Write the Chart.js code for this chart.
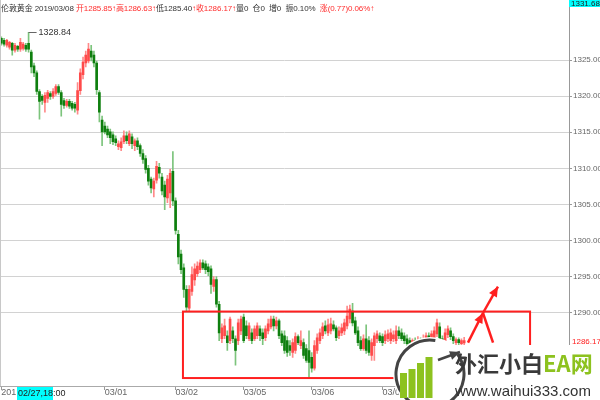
<!DOCTYPE html>
<html>
<head>
<meta charset="utf-8">
<script src="https://cdn.jsdelivr.net/npm/chart.js@4.4.0/dist/chart.umd.min.js"></script>
<style>
  html, body { margin: 0; padding: 0; background: #fff; }
  #wrap { position: relative; width: 600px; height: 400px; overflow: hidden; }
  #header {
    position: absolute; left: 1px; top: 2px; white-space: nowrap; letter-spacing: -0.1px;
    font: 8px "Liberation Sans", Arial, "Noto Sans CJK SC", sans-serif; color: #333;
  }
  #header .r { color: #ff2d2d; }
</style>
</head>
<body>
<div id="wrap">
  <canvas id="kline" width="600" height="400"></canvas>
  <div id="header">伦敦黄金 2019/03/08 <span class="r">开1285.85↑高1286.63↑</span>低1285.40<span class="r">↑收1286.17↑</span>量0&nbsp;&nbsp;仓0&nbsp;&nbsp;增0&nbsp;&nbsp;振0.10%&nbsp;&nbsp;<span class="r">涨(0.77)0.06%↑</span></div>
</div>
<script>
// hourly bars, London gold
const opens = [
  1328.0, 1327.72, 1327.04, 1326.77, 1327.32, 1326.36, 1326.9, 1326.5, 1326.6, 1327.04,
  1327.3, 1326.09, 1324.18, 1323.23, 1320.64, 1319.96, 1319.14, 1319.7, 1320.37, 1319.96,
  1320.37, 1321.32, 1320.5, 1319.4, 1318.73, 1319.28, 1319.0, 1318.87, 1318.05, 1320.77,
  1322.96, 1324.59, 1324.86, 1326.23, 1325.68, 1324.59, 1320.5, 1316.7, 1315.87, 1315.46,
  1315.05, 1314.64, 1314.1, 1313.01, 1312.87, 1313.69, 1314.5, 1313.42, 1314.37, 1313.15,
  1313.83, 1313.15, 1312.06, 1311.38, 1310.01, 1308.51, 1307.15, 1308.38, 1310.15, 1308.79,
  1307.7, 1305.93, 1306.61, 1309.6, 1305.52, 1300.89, 1298.16, 1296.25, 1293.26, 1290.67,
  1292.98, 1294.58, 1295.44, 1295.98, 1296.94, 1296.8, 1296.39, 1296.12, 1293.67, 1294.62,
  1291.21, 1286.44, 1286.85, 1286.85, 1286.17, 1287.53, 1286.44, 1286.17, 1287.53, 1289.44,
  1288.22, 1286.44, 1287.26, 1286.44, 1286.85, 1287.81, 1287.26, 1286.58, 1287.53, 1288.08,
  1289.17, 1288.22, 1288.9, 1287.12, 1286.85, 1286.17, 1285.49, 1284.54, 1284.81, 1286.72,
  1285.49, 1285.9, 1285.08, 1284.81, 1283.86, 1282.36, 1284.81, 1286.17, 1286.85, 1288.22,
  1287.26, 1287.53, 1288.35, 1287.94, 1286.85, 1287.26, 1287.53, 1288.22, 1289.17, 1290.26,
  1288.9, 1287.53, 1286.17, 1285.08, 1286.44, 1286.17, 1284.13, 1285.49, 1286.44, 1286.85,
  1286.72, 1286.17, 1286.44, 1286.17, 1286.44, 1286.17, 1287.53, 1287.26, 1286.85, 1286.44,
  1286.17, 1285.49, 1286.17, 1285.63, 1286.17, 1285.63, 1286.17, 1286.85, 1286.17, 1286.44,
  1287.12, 1288.08, 1286.44, 1286.17, 1286.99, 1287.53, 1286.72, 1285.9, 1286.31, 1285.76,
  1285.85
];
const highs = [
  1328.2, 1328.0, 1327.86, 1327.6, 1327.45, 1327.3, 1327.04, 1328.0, 1327.45, 1327.3,
  1328.84, 1326.36, 1324.59, 1323.5, 1320.91, 1320.23, 1320.5, 1320.8, 1320.64, 1321.05,
  1321.59, 1321.59, 1320.77, 1319.7, 1319.55, 1319.55, 1319.28, 1319.14, 1321.87, 1323.77,
  1325.4, 1326.23, 1327.32, 1327.04, 1326.23, 1324.86, 1320.77, 1317.24, 1316.42, 1315.87,
  1315.46, 1315.05, 1314.5, 1313.83, 1314.24, 1315.2, 1315.05, 1315.2, 1314.78, 1314.1,
  1314.24, 1313.42, 1312.6, 1311.78, 1310.42, 1308.79, 1308.65, 1310.97, 1310.69, 1309.33,
  1308.24, 1309.06, 1309.88, 1312.33, 1305.93, 1301.43, 1298.7, 1296.8, 1293.8, 1293.8,
  1296.39, 1296.8, 1297.07, 1297.34, 1297.34, 1297.2, 1296.8, 1296.53, 1295.03, 1295.03,
  1291.62, 1288.49, 1289.17, 1287.53, 1289.44, 1288.08, 1286.85, 1289.17, 1289.58, 1289.85,
  1288.9, 1288.63, 1287.81, 1288.22, 1288.63, 1288.22, 1287.81, 1288.22, 1289.17, 1289.58,
  1289.58, 1289.44, 1289.17, 1287.53, 1287.53, 1286.72, 1286.17, 1286.44, 1287.26, 1286.99,
  1287.53, 1286.44, 1285.63, 1287.53, 1284.54, 1286.17, 1287.12, 1287.81, 1288.63, 1288.9,
  1289.17, 1289.3, 1288.9, 1288.22, 1288.08, 1288.49, 1289.17, 1290.94, 1291.08, 1291.35,
  1289.44, 1288.08, 1286.72, 1286.99, 1288.35, 1286.72, 1286.44, 1287.26, 1287.53, 1287.26,
  1287.12, 1287.53, 1287.67, 1287.81, 1287.53, 1288.22, 1288.08, 1287.81, 1287.26, 1286.99,
  1286.58, 1286.44, 1286.58, 1286.72, 1286.58, 1286.99, 1287.26, 1287.26, 1287.53, 1288.08,
  1289.17, 1288.63, 1286.85, 1287.81, 1288.22, 1287.94, 1287.12, 1286.58, 1286.58, 1286.44,
  1286.63
];
const lows = [
  1327.04, 1326.9, 1326.77, 1326.5, 1325.68, 1326.1, 1326.2, 1326.2, 1326.36, 1326.2,
  1326.09, 1323.23, 1322.7, 1320.23, 1316.83, 1318.87, 1317.78, 1319.14, 1319.55, 1319.7,
  1320.1, 1320.23, 1317.24, 1318.3, 1318.46, 1318.3, 1318.05, 1317.78, 1317.51, 1320.23,
  1322.4, 1324.05, 1324.59, 1324.86, 1324.05, 1320.23, 1316.42, 1313.15, 1314.78, 1314.24,
  1313.42, 1313.28, 1313.15, 1312.6, 1312.46, 1313.42, 1313.42, 1313.15, 1312.74, 1312.46,
  1312.6, 1311.65, 1310.69, 1309.33, 1307.7, 1306.61, 1306.07, 1307.97, 1308.65, 1306.34,
  1304.29, 1305.25, 1304.56, 1304.84, 1300.89, 1296.8, 1295.44, 1292.17, 1290.26, 1290.26,
  1292.44, 1293.8, 1295.03, 1295.57, 1295.98, 1295.44, 1295.17, 1292.71, 1292.98, 1290.8,
  1286.17, 1285.9, 1286.44, 1284.81, 1285.76, 1285.9, 1282.77, 1285.63, 1286.99, 1285.9,
  1286.44, 1286.17, 1285.76, 1286.17, 1286.44, 1286.17, 1285.63, 1286.17, 1287.12, 1287.81,
  1287.53, 1287.81, 1286.44, 1285.49, 1284.4, 1283.99, 1284.13, 1283.86, 1284.4, 1285.63,
  1285.08, 1283.72, 1283.17, 1281.0, 1281.81, 1282.1, 1284.4, 1285.76, 1286.44, 1287.12,
  1286.85, 1287.12, 1287.53, 1286.17, 1286.44, 1286.85, 1286.99, 1287.81, 1288.63, 1288.22,
  1286.99, 1285.49, 1284.81, 1284.81, 1284.4, 1284.13, 1283.45, 1283.45, 1285.9, 1285.9,
  1285.49, 1285.76, 1286.03, 1285.76, 1286.03, 1285.76, 1286.44, 1286.17, 1285.76, 1285.35,
  1285.08, 1285.08, 1285.22, 1285.35, 1285.22, 1285.35, 1285.9, 1285.76, 1285.9, 1286.03,
  1286.72, 1285.63, 1285.49, 1285.76, 1286.58, 1286.31, 1285.76, 1285.63, 1285.49, 1285.49,
  1285.4
];
const closes = [
  1327.32, 1327.2, 1327.72, 1327.45, 1326.36, 1327.04, 1326.5, 1327.45, 1327.2, 1326.5,
  1326.5, 1324.05, 1323.23, 1320.64, 1319.28, 1319.4, 1320.1, 1320.5, 1319.96, 1320.64,
  1321.32, 1320.5, 1318.87, 1318.73, 1319.28, 1318.6, 1318.32, 1318.32, 1320.77, 1323.23,
  1324.73, 1325.68, 1326.5, 1325.4, 1324.59, 1320.91, 1317.78, 1315.05, 1315.05, 1314.64,
  1314.24, 1313.69, 1313.56, 1313.42, 1313.69, 1314.5, 1313.83, 1314.78, 1313.42, 1313.83,
  1313.01, 1312.06, 1311.24, 1309.88, 1308.24, 1307.29, 1308.24, 1310.28, 1309.33, 1306.88,
  1306.07, 1308.51, 1309.33, 1305.52, 1301.43, 1297.75, 1295.98, 1293.26, 1290.8, 1293.26,
  1295.3, 1296.12, 1296.5, 1296.94, 1296.25, 1295.98, 1295.71, 1293.94, 1294.62, 1291.21,
  1287.26, 1287.94, 1288.22, 1285.9, 1289.17, 1286.44, 1284.81, 1288.63, 1289.17, 1286.17,
  1286.85, 1288.22, 1286.17, 1287.81, 1288.22, 1286.85, 1286.44, 1287.81, 1288.49, 1289.17,
  1288.22, 1288.9, 1286.85, 1285.9, 1284.81, 1284.54, 1284.81, 1285.9, 1286.72, 1285.9,
  1286.17, 1284.13, 1283.45, 1283.17, 1282.36, 1285.49, 1286.58, 1287.26, 1288.08, 1287.53,
  1288.35, 1288.49, 1287.81, 1286.58, 1287.53, 1287.94, 1288.63, 1289.58, 1290.53, 1288.63,
  1287.26, 1285.9, 1285.08, 1286.44, 1284.81, 1284.54, 1285.9, 1286.85, 1287.12, 1286.17,
  1285.9, 1286.99, 1287.12, 1287.26, 1286.99, 1287.53, 1286.85, 1286.44, 1286.17, 1285.76,
  1285.49, 1286.17, 1285.63, 1286.17, 1285.63, 1286.44, 1286.85, 1286.17, 1287.12, 1287.53,
  1288.63, 1286.17, 1285.9, 1287.26, 1287.81, 1286.72, 1286.17, 1286.31, 1285.9, 1286.17,
  1286.17
];

const slotCount = 209;
const tickSlots = [0, 38, 64, 89, 114, 140];
const tickTexts = ['2019/02/27', '03/01', '03/02', '03/05', '03/06', '03/07'];
const priceTicks = [1290, 1295, 1300, 1305, 1310, 1315, 1320, 1325];
const topTag = 1331.68;

// annotations drawn on top: [slot, price]
const boxCorners = [[66.7, 1290.2], [194.2, 1281.0]];
const arrowLegs = [
  [[171.4, 1285.9], [176.9, 1290.0], true],
  [[176.9, 1290.0], [182.4, 1293.66], true],
  [[176.9, 1290.0], [180.6, 1285.9], false]
];

const labels = Array.from({ length: slotCount }, (_, i) => String(i));
const isUp = opens.map((o, i) => closes[i] >= o);

const FONT = '"Liberation Sans", Arial, sans-serif';

function drawArrow(ctx, x1, y1, x2, y2, head) {
    ctx.beginPath();
    ctx.moveTo(x1, y1);
    ctx.lineTo(x2, y2);
    ctx.stroke();
    if (!head) return;
    const a = Math.atan2(y2 - y1, x2 - x1);
    const len = 11, w = 0.42;
    ctx.beginPath();
    ctx.moveTo(x2, y2);
    ctx.lineTo(x2 - len * Math.cos(a - w), y2 - len * Math.sin(a - w));
    ctx.lineTo(x2 - len * Math.cos(a + w), y2 - len * Math.sin(a + w));
    ctx.closePath();
    ctx.fill();
}

const overlay = {
    id: 'overlay',
    afterDraw(chart) {
        const ctx = chart.ctx;
        const xs = chart.scales.x, ys = chart.scales.y;
        const area = chart.chartArea;
        ctx.save();

        // left frame line
        ctx.strokeStyle = '#c8c8c8';
        ctx.lineWidth = 1;
        ctx.beginPath();
        ctx.moveTo(0.5, 0);
        ctx.lineTo(0.5, area.bottom);
        ctx.stroke();

        // highest price marker
        let hi = 0;
        highs.forEach((h, i) => { if (h > highs[hi]) hi = i; });
        const hx = xs.getPixelForValue(hi), hy = ys.getPixelForValue(highs[hi]);
        ctx.strokeStyle = '#666';
        ctx.beginPath();
        ctx.moveTo(hx, Math.round(hy) + 0.5);
        ctx.lineTo(hx + 8, Math.round(hy) + 0.5);
        ctx.stroke();
        ctx.fillStyle = '#333';
        ctx.font = '9px ' + FONT;
        ctx.textBaseline = 'middle';
        ctx.fillText(highs[hi].toFixed(2), hx + 10, hy);

        // red range box
        ctx.strokeStyle = '#ff1f1f';
        ctx.fillStyle = '#ff1f1f';
        ctx.lineWidth = 2;
        const bx1 = xs.getPixelForValue(boxCorners[0][0]), by1 = ys.getPixelForValue(boxCorners[0][1]);
        const bx2 = xs.getPixelForValue(boxCorners[1][0]), by2 = ys.getPixelForValue(boxCorners[1][1]);
        ctx.strokeRect(bx1, by1, bx2 - bx1, by2 - by1);

        ctx.lineWidth = 2.5;
        arrowLegs.forEach(([p, q, head]) => {
            drawArrow(ctx, xs.getPixelForValue(p[0]), ys.getPixelForValue(p[1]),
                xs.getPixelForValue(q[0]), ys.getPixelForValue(q[1]), head);
        });

        // last price on the axis
        const last = closes[closes.length - 1];
        ctx.fillStyle = '#ff2020';
        ctx.font = '8px ' + FONT;
        ctx.textBaseline = 'middle';
        ctx.fillText(last.toFixed(2), area.right + 3, ys.getPixelForValue(last) + 1);

        // top value tag
        ctx.fillStyle = '#00ffff';
        ctx.fillRect(area.right, 0, 600 - area.right, 7);
        ctx.fillStyle = '#222';
        ctx.textBaseline = 'alphabetic';
        ctx.fillText(topTag.toFixed(2), area.right + 2, 6);

        // cursor time tag
        ctx.fillStyle = '#00ffff';
        ctx.fillRect(17, area.bottom + 1, 36, 400 - area.bottom - 1);
        ctx.fillStyle = '#222';
        ctx.font = '9px ' + FONT;
        ctx.textBaseline = 'middle';
        ctx.fillText('02/27,18:00', 18, area.bottom + 8);

        // watermark
        const cx = 430, cy = 374, r = 34;
        ctx.fillStyle = '#fff';
        ctx.beginPath();
        ctx.arc(cx, cy, r + 3, 0, Math.PI * 2);
        ctx.fill();
        ctx.fillRect(452, 345, 148, 55);
        ctx.strokeStyle = '#444';
        ctx.fillStyle = '#444';
        ctx.lineWidth = 3;
        ctx.beginPath();
        ctx.arc(cx, cy, r, -0.2 * Math.PI, 1.55 * Math.PI);
        ctx.stroke();
        ctx.lineWidth = 2.5;
        drawArrow(ctx, cx + 8, cy - 14, cx + 30, cy - 22, true);
        ctx.fillStyle = '#8dc21f';
        [[400, 373], [408.5, 369], [417, 363], [425.5, 357]].forEach(([bx, top]) => {
            ctx.fillRect(bx, top, 7, 398 - top);
        });
        ctx.font = 'bold 22px "Noto Sans CJK SC", sans-serif';
        ctx.textBaseline = 'middle';
        ctx.fillStyle = '#3a3a3a';
        ctx.fillText('外汇小白', 455, 364);
        const w1 = ctx.measureText('外汇小白').width;
        ctx.fillStyle = '#8dc21f';
        ctx.fillText('EA网', 455 + w1, 364);
        ctx.font = '15px ' + FONT;
        ctx.fillStyle = '#333';
        ctx.fillText('www.waihui333.com', 455, 392);

        ctx.restore();
    }
};

new Chart(document.getElementById('kline'), {
    type: 'bar',
    data: {
        labels: labels,
        datasets: [
            {
                label: 'body',
                data: opens.map((o, i) => [o, closes[i]]),
                backgroundColor: isUp.map(u => u ? '#ff4a4a' : '#0e7f0e'),
                barThickness: 2,
                minBarLength: 1,
                grouped: false,
                order: 0
            },
            {
                label: 'wick',
                data: lows.map((l, i) => [l, highs[i]]),
                backgroundColor: isUp.map(u => u ? '#ff8a8a' : '#7cc47c'),
                barThickness: 1,
                grouped: false,
                order: 1
            }
        ]
    },
    options: {
        responsive: false,
        animation: false,
        layout: { padding: 0 },
        plugins: { legend: { display: false }, tooltip: { enabled: false } },
        scales: {
            x: {
                type: 'category',
                offset: true,
                afterBuildTicks: scale => { scale.ticks = tickSlots.map(v => ({ value: v })); },
                afterFit: scale => { scale.height = 14; },
                grid: { display: true, drawOnChartArea: false, drawTicks: true, tickLength: 4, offset: false, color: '#999' },
                border: { display: true, color: '#aaa' },
                ticks: {
                    autoSkip: false,
                    maxRotation: 0,
                    align: 'start',
                    padding: -3,
                    color: '#666',
                    font: { size: 9, family: FONT },
                    callback: v => tickTexts[tickSlots.indexOf(v)]
                }
            },
            y: {
                position: 'right',
                min: 1279.9,
                max: 1332.5,
                afterBuildTicks: scale => { scale.ticks = priceTicks.map(v => ({ value: v })); },
                afterFit: scale => { scale.width = 31; },
                grid: { color: '#d2d2d2', tickColor: '#999', tickLength: 3 },
                border: { color: '#999' },
                ticks: {
                    padding: 1,
                    color: '#666',
                    font: { size: 8, family: FONT },
                    callback: v => v.toFixed(2)
                }
            }
        }
    },
    plugins: [overlay]
});
</script>
</body>
</html>
